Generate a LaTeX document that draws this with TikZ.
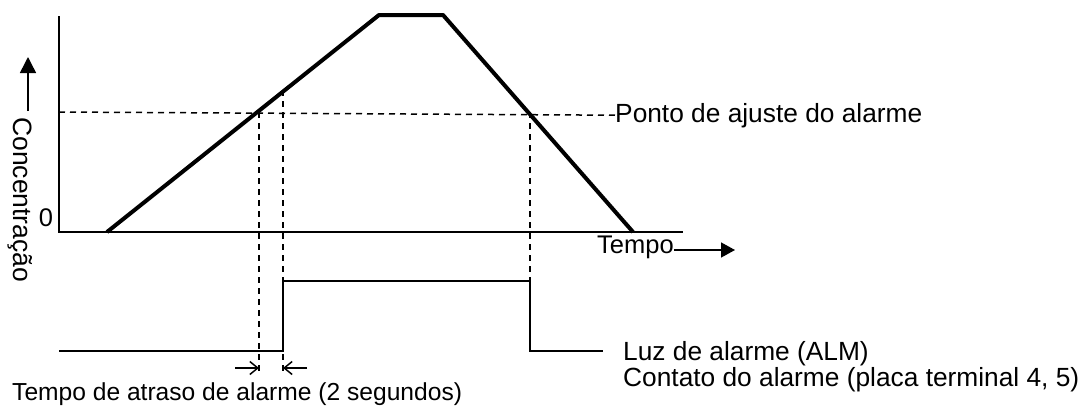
\documentclass[tikz,border=0pt]{standalone}
\usepackage{fontspec}
\setmainfont{Liberation Sans}
\usetikzlibrary{arrows.meta}

\begin{document}
\begin{tikzpicture}[x=1pt,y=-1pt,
    lbl/.style={inner sep=0pt,font=\fontsize{26.3}{31}\selectfont},
    curve/.style={draw=black,line width=4pt,line join=round},
    axis/.style={draw=black,line width=2pt},
    pulse/.style={draw=black,line width=2.5pt},
    guide/.style={draw=black,line width=1.5pt,dash pattern=on 6pt off 5pt},
    dim/.style={draw=black,line width=1.5pt,-{Straight Barb[length=8pt,width=13pt]}}]
      \useasboundingbox (0,0) rectangle (1086,405);
      % points of the concentration curve
      \coordinate (ytop) at (59,16);
      \coordinate (orig) at (59,232);
      \coordinate (xend) at (683,232);
      \coordinate (rise) at (107,232);
      \coordinate (peakl) at (379,15);
      \coordinate (peakr) at (443,15);
      \coordinate (fall) at (633,232);
      \coordinate (setl) at (59,112);
      \coordinate (cross) at (259,112);
      \coordinate (delay) at (283,90);
      \coordinate (off) at (530,112);
      % points of the alarm output
      \coordinate (lowl) at (59,351);
      \coordinate (on) at (283,351);
      \coordinate (onhi) at (283,281);
      \coordinate (offhi) at (530,281);
      \coordinate (offlo) at (530,351);
      \coordinate (lowr) at (603,351);
      \coordinate (crossb) at (259,375);
      \coordinate (delayb) at (283,375);
      \coordinate (diml) at (235,368);
      \coordinate (dimlt) at (259,368);
      \coordinate (dimr) at (307,368);
      \coordinate (dimrt) at (283,368);
      \coordinate (cbot) at (28,111);
      \coordinate (ctip) at (28,57);
      \coordinate (ttip) at (735,250);
      \begin{scope}[every node/.style={lbl}]
        \node[anchor=base west] (setpt) at (615,122) {Ponto de ajuste do alarme};
        \node[anchor=base west] (luz) at (623,360) {Luz de alarme (ALM)};
        \node[anchor=base west] (cont) at (623,386) {Contato do alarme (placa terminal 4, 5)};
        \node[anchor=base west,font=\fontsize{24.6}{29}\selectfont] (atraso) at (12,400) {Tempo de atraso de alarme (2 segundos)};
        \node[anchor=base west,font=\fontsize{25.5}{30}\selectfont] (tempo) at (597,253) {Tempo};
        \node[anchor=base,font=\fontsize{25.5}{30}\selectfont] (zero) at (46,226) {0};
        \node[anchor=base west,rotate=-90,font=\fontsize{26.5}{31}\selectfont] (conc) at (13,117) {Concentração};
      \end{scope}
      \begin{scope}[every path/.style={axis}]
          \path (ytop) -- (orig) -- (xend);
      \end{scope}
      \path[curve] (rise) -- (peakl) -- (peakr) -- (fall);
      \begin{scope}[every path/.style={guide}]
          \path (setl) -- (setpt.west);
          \path (cross) -- (crossb);
          \path (delay) -- (delayb);
          \path (off) -- (offhi);
      \end{scope}
      \path[pulse] (lowl) -- (on) -- (onhi) -- (offhi) -- (offlo) -- (lowr);
      \path[dim] (diml) -- (dimlt);
      \path[dim] (dimr) -- (dimrt);
      \draw[line width=1.5pt,-{Triangle[length=16pt,width=16pt]}] (cbot) -- (ctip);
      \draw[line width=1.5pt,-{Triangle[length=14pt,width=15pt]}] (tempo.east |- ttip) -- (ttip);
    \end{tikzpicture}
\end{document}
